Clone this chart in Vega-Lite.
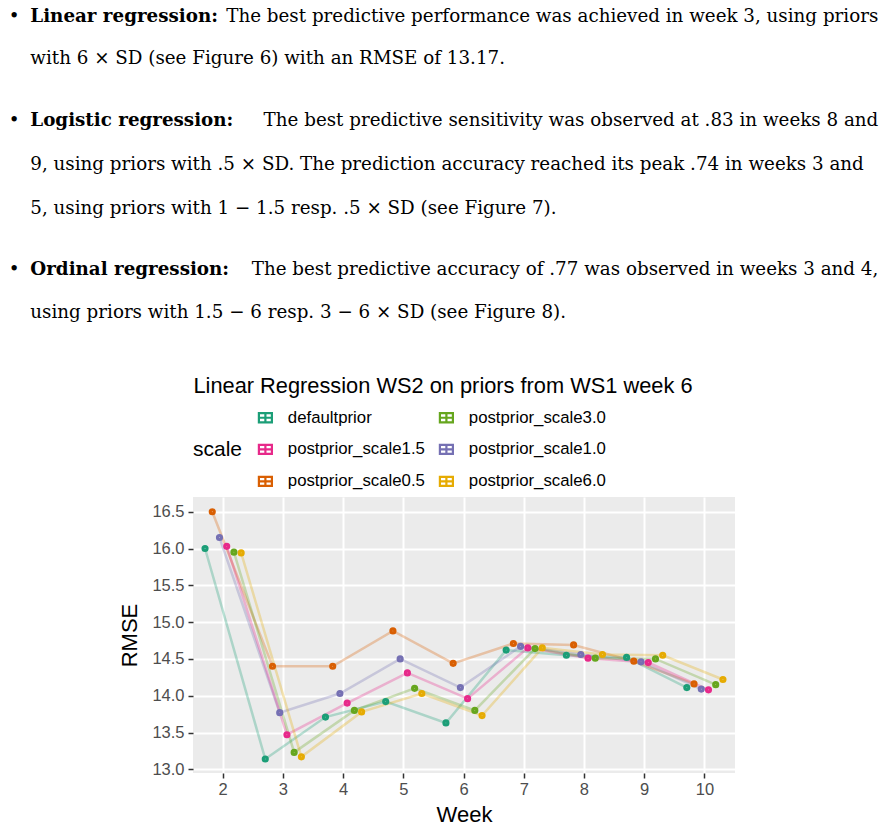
{
  "$schema": "https://vega.github.io/schema/vega-lite/v6.json",
  "background": "white",
  "autosize": {"type": "pad"},
  "padding": {"left": 8, "top": 7, "right": 0, "bottom": 0},
  "datasets": {
    "text": [
      {"para": 1, "line": 1, "slot": "bullet", "txt": "•"},
      {"para": 1, "line": 1, "slot": "lead", "txt": "Linear regression:"},
      {"para": 1, "line": 1, "slot": "rest", "txt": "The best predictive performance was achieved in week 3, using priors"},
      {"para": 1, "line": 2, "slot": "last", "txt": "with 6 × SD (see Figure 6) with an RMSE of 13.17."},
      {"para": 2, "line": 1, "slot": "bullet", "txt": "•"},
      {"para": 2, "line": 1, "slot": "lead", "txt": "Logistic regression:"},
      {"para": 2, "line": 1, "slot": "rest", "txt": "The best predictive sensitivity was observed at .83 in weeks 8 and"},
      {"para": 2, "line": 2, "slot": "last", "txt": "9, using priors with .5 × SD. The prediction accuracy reached its peak .74 in weeks 3 and"},
      {"para": 2, "line": 3, "slot": "last", "txt": "5, using priors with 1 − 1.5 resp. .5 × SD (see Figure 7)."},
      {"para": 3, "line": 1, "slot": "bullet", "txt": "•"},
      {"para": 3, "line": 1, "slot": "lead", "txt": "Ordinal regression:"},
      {"para": 3, "line": 1, "slot": "rest", "txt": "The best predictive accuracy of .77 was observed in weeks 3 and 4,"},
      {"para": 3, "line": 2, "slot": "last", "txt": "using priors with 1.5 − 6 resp. 3 − 6 × SD (see Figure 8)."}
    ],
    "rmse": [
      {"week": 2, "scale": "defaultprior", "rmse": 16.00},
      {"week": 2, "scale": "postprior_scale0.5", "rmse": 16.50},
      {"week": 2, "scale": "postprior_scale1.0", "rmse": 16.15},
      {"week": 2, "scale": "postprior_scale1.5", "rmse": 16.03},
      {"week": 2, "scale": "postprior_scale3.0", "rmse": 15.95},
      {"week": 2, "scale": "postprior_scale6.0", "rmse": 15.94},
      {"week": 3, "scale": "defaultprior", "rmse": 13.14},
      {"week": 3, "scale": "postprior_scale0.5", "rmse": 14.40},
      {"week": 3, "scale": "postprior_scale1.0", "rmse": 13.77},
      {"week": 3, "scale": "postprior_scale1.5", "rmse": 13.47},
      {"week": 3, "scale": "postprior_scale3.0", "rmse": 13.23},
      {"week": 3, "scale": "postprior_scale6.0", "rmse": 13.17},
      {"week": 4, "scale": "defaultprior", "rmse": 13.71},
      {"week": 4, "scale": "postprior_scale0.5", "rmse": 14.40},
      {"week": 4, "scale": "postprior_scale1.0", "rmse": 14.03},
      {"week": 4, "scale": "postprior_scale1.5", "rmse": 13.90},
      {"week": 4, "scale": "postprior_scale3.0", "rmse": 13.80},
      {"week": 4, "scale": "postprior_scale6.0", "rmse": 13.78},
      {"week": 5, "scale": "defaultprior", "rmse": 13.92},
      {"week": 5, "scale": "postprior_scale0.5", "rmse": 14.88},
      {"week": 5, "scale": "postprior_scale1.0", "rmse": 14.50},
      {"week": 5, "scale": "postprior_scale1.5", "rmse": 14.31},
      {"week": 5, "scale": "postprior_scale3.0", "rmse": 14.10},
      {"week": 5, "scale": "postprior_scale6.0", "rmse": 14.03},
      {"week": 6, "scale": "defaultprior", "rmse": 13.63},
      {"week": 6, "scale": "postprior_scale0.5", "rmse": 14.44},
      {"week": 6, "scale": "postprior_scale1.0", "rmse": 14.11},
      {"week": 6, "scale": "postprior_scale1.5", "rmse": 13.96},
      {"week": 6, "scale": "postprior_scale3.0", "rmse": 13.80},
      {"week": 6, "scale": "postprior_scale6.0", "rmse": 13.73},
      {"week": 7, "scale": "defaultprior", "rmse": 14.62},
      {"week": 7, "scale": "postprior_scale0.5", "rmse": 14.71},
      {"week": 7, "scale": "postprior_scale1.0", "rmse": 14.67},
      {"week": 7, "scale": "postprior_scale1.5", "rmse": 14.65},
      {"week": 7, "scale": "postprior_scale3.0", "rmse": 14.64},
      {"week": 7, "scale": "postprior_scale6.0", "rmse": 14.65},
      {"week": 8, "scale": "defaultprior", "rmse": 14.55},
      {"week": 8, "scale": "postprior_scale0.5", "rmse": 14.69},
      {"week": 8, "scale": "postprior_scale1.0", "rmse": 14.56},
      {"week": 8, "scale": "postprior_scale1.5", "rmse": 14.51},
      {"week": 8, "scale": "postprior_scale3.0", "rmse": 14.51},
      {"week": 8, "scale": "postprior_scale6.0", "rmse": 14.56},
      {"week": 9, "scale": "defaultprior", "rmse": 14.52},
      {"week": 9, "scale": "postprior_scale0.5", "rmse": 14.47},
      {"week": 9, "scale": "postprior_scale1.0", "rmse": 14.46},
      {"week": 9, "scale": "postprior_scale1.5", "rmse": 14.45},
      {"week": 9, "scale": "postprior_scale3.0", "rmse": 14.50},
      {"week": 9, "scale": "postprior_scale6.0", "rmse": 14.55},
      {"week": 10, "scale": "defaultprior", "rmse": 14.11},
      {"week": 10, "scale": "postprior_scale0.5", "rmse": 14.16},
      {"week": 10, "scale": "postprior_scale1.0", "rmse": 14.09},
      {"week": 10, "scale": "postprior_scale1.5", "rmse": 14.08},
      {"week": 10, "scale": "postprior_scale3.0", "rmse": 14.15},
      {"week": 10, "scale": "postprior_scale6.0", "rmse": 14.22}
    ]
  },
  "vconcat": [
    {
      "width": 542, "height": 104,
      "data": {"name": "text"},
      "transform": [{"filter": "datum.para == 1"}],
      "encoding": {
        "y": {"field": "line", "type": "ordinal", "scale": {"type": "point", "padding": 0, "range": [0, 42]}, "axis": null},
        "text": {"field": "txt"}
      },
      "layer": [
        {"transform": [{"filter": "datum.slot == 'bullet'"}], "mark": {"type": "text", "align": "center", "baseline": "alphabetic", "font": "DejaVu Serif", "fontSize": 18.3, "color": "black"},
         "encoding": {"x": {"datum": -0.0191, "type": "quantitative", "scale": {"domain": [0, 1], "range": [-162.7, 685.3], "nice": false, "zero": false}, "axis": null}}},
        {"transform": [{"filter": "datum.slot == 'lead'"}], "mark": {"type": "text", "align": "left", "baseline": "alphabetic", "font": "DejaVu Serif", "fontSize": 18.3, "fontWeight": "bold", "color": "black"},
         "encoding": {"x": {"datum": 0, "type": "quantitative"}}},
        {"transform": [{"filter": "datum.slot == 'rest'"}], "mark": {"type": "text", "align": "right", "baseline": "alphabetic", "font": "DejaVu Serif", "fontSize": 18.3, "color": "black"},
         "encoding": {"x": {"datum": 1, "type": "quantitative"}}},
        {"transform": [{"filter": "datum.slot == 'last'"}], "mark": {"type": "text", "align": "left", "baseline": "alphabetic", "font": "DejaVu Serif", "fontSize": 18.3, "color": "black"},
         "encoding": {"x": {"datum": 0, "type": "quantitative"}}}
      ]
    },
    {
      "width": 542, "height": 148.3,
      "data": {"name": "text"},
      "transform": [{"filter": "datum.para == 2"}],
      "encoding": {
        "y": {"field": "line", "type": "ordinal", "scale": {"type": "point", "padding": 0, "range": [0, 88.3]}, "axis": null},
        "text": {"field": "txt"}
      },
      "layer": [
        {"transform": [{"filter": "datum.slot == 'bullet'"}], "mark": {"type": "text", "align": "center", "baseline": "alphabetic", "font": "DejaVu Serif", "fontSize": 18.3, "color": "black"},
         "encoding": {"x": {"datum": -0.0191, "type": "quantitative", "scale": {"domain": [0, 1], "range": [-162.7, 685.3], "nice": false, "zero": false}, "axis": null}}},
        {"transform": [{"filter": "datum.slot == 'lead'"}], "mark": {"type": "text", "align": "left", "baseline": "alphabetic", "font": "DejaVu Serif", "fontSize": 18.3, "fontWeight": "bold", "color": "black"},
         "encoding": {"x": {"datum": 0, "type": "quantitative"}}},
        {"transform": [{"filter": "datum.slot == 'rest'"}], "mark": {"type": "text", "align": "right", "baseline": "alphabetic", "font": "DejaVu Serif", "fontSize": 18.3, "color": "black"},
         "encoding": {"x": {"datum": 1, "type": "quantitative"}}},
        {"transform": [{"filter": "datum.slot == 'last'"}], "mark": {"type": "text", "align": "left", "baseline": "alphabetic", "font": "DejaVu Serif", "fontSize": 18.3, "color": "black"},
         "encoding": {"x": {"datum": 0, "type": "quantitative"}}}
      ]
    },
    {
      "width": 542, "height": 222,
      "data": {"name": "text"},
      "transform": [{"filter": "datum.para == 3"}],
      "encoding": {
        "y": {"field": "line", "type": "ordinal", "scale": {"type": "point", "padding": 0, "range": [0, 43]}, "axis": null},
        "text": {"field": "txt"}
      },
      "layer": [
        {"transform": [{"filter": "datum.slot == 'bullet'"}], "mark": {"type": "text", "align": "center", "baseline": "alphabetic", "font": "DejaVu Serif", "fontSize": 18.3, "color": "black"},
         "encoding": {"x": {"datum": -0.0191, "type": "quantitative", "scale": {"domain": [0, 1], "range": [-162.7, 685.3], "nice": false, "zero": false}, "axis": null}}},
        {"transform": [{"filter": "datum.slot == 'lead'"}], "mark": {"type": "text", "align": "left", "baseline": "alphabetic", "font": "DejaVu Serif", "fontSize": 18.3, "fontWeight": "bold", "color": "black"},
         "encoding": {"x": {"datum": 0, "type": "quantitative"}}},
        {"transform": [{"filter": "datum.slot == 'rest'"}], "mark": {"type": "text", "align": "right", "baseline": "alphabetic", "font": "DejaVu Serif", "fontSize": 18.3, "color": "black"},
         "encoding": {"x": {"datum": 1, "type": "quantitative"}}},
        {"transform": [{"filter": "datum.slot == 'last'"}], "mark": {"type": "text", "align": "left", "baseline": "alphabetic", "font": "DejaVu Serif", "fontSize": 18.3, "color": "black"},
         "encoding": {"x": {"datum": 0, "type": "quantitative"}}}
      ]
    },
    {
      "width": 542,
      "height": 276,
      "data": {"name": "rmse"},
      "view": {"fill": "#EBEBEB", "stroke": null},
      "title": {
        "text": "Linear Regression WS2 on priors from WS1 week 6",
        "font": "Liberation Sans", "fontSize": 21.8, "fontWeight": "normal", "color": "black",
        "anchor": "middle", "frame": "group", "dx": -21, "offset": 99
      },
      "encoding": {
        "x": {
          "field": "week", "type": "ordinal", "title": "Week",
          "scale": {"type": "band", "paddingInner": 0, "paddingOuter": 0},
          "axis": {"labelAngle": 0, "bandPosition": 0.5, "labelPadding": 3, "titlePadding": 7}
        },
        "xOffset": {
          "field": "scale", "type": "nominal",
          "scale": {"domain": ["defaultprior", "postprior_scale0.5", "postprior_scale1.0", "postprior_scale1.5", "postprior_scale3.0", "postprior_scale6.0"], "paddingInner": 0, "paddingOuter": 0, "range": [12.04, 48.16]}
        },
        "y": {
          "field": "rmse", "type": "quantitative", "title": "RMSE",
          "scale": {"domain": [12.95, 16.7], "nice": false, "zero": false},
          "axis": {"values": [13, 13.5, 14, 14.5, 15, 15.5, 16, 16.5], "format": ".1f", "labelPadding": 4, "titlePadding": 10}
        },
        "color": {
          "field": "scale", "type": "nominal", "title": "scale",
          "scale": {
            "domain": ["defaultprior", "postprior_scale1.5", "postprior_scale0.5", "postprior_scale3.0", "postprior_scale1.0", "postprior_scale6.0"],
            "range": ["#1B9E77", "#E7298A", "#D95F02", "#66A61E", "#7570B3", "#E6AB02"]
          },
          "legend": {
            "orient": "none", "legendX": 0, "legendY": 387,
            "columns": 2,
            "titleOrient": "left", "titleAnchor": "middle", "titleBaseline": "middle",
            "titleFont": "Liberation Sans", "titleFontSize": 21, "titleFontWeight": "normal", "titleColor": "black", "titlePadding": 14,
            "labelFont": "Liberation Sans", "labelFontSize": 16.8, "labelColor": "black", "labelOffset": 14,
            "symbolType": "M-1,-0.7H1V0.7H-1Z M-1,0H1 M0,-0.7V0.7",
            "symbolSize": 169, "symbolStrokeWidth": 2.2, "symbolOpacity": 1, "symbolFillColor": "#F2F2F2",
            "rowPadding": 13, "columnPadding": 10
          }
        }
      },
      "layer": [
        {"mark": {"type": "line", "strokeWidth": 2.5, "opacity": 0.3}},
        {"mark": {"type": "point", "filled": false, "opacity": 1, "size": 10, "strokeWidth": 4}}
      ]
    }
  ],
  "spacing": 0,
  "bounds": "flush",
  "config": {
    "font": "Liberation Sans",
    "view": {"stroke": null},
    "axis": {
      "domain": false, "grid": true, "gridColor": "white", "gridWidth": 2,
      "tickColor": "#333333", "tickWidth": 1.5, "tickSize": 5,
      "labelFont": "Liberation Sans", "labelFontSize": 16.5, "labelColor": "#4D4D4D",
      "titleFont": "Liberation Sans", "titleFontSize": 22, "titleFontWeight": "normal", "titleColor": "black"
    }
  }
}
